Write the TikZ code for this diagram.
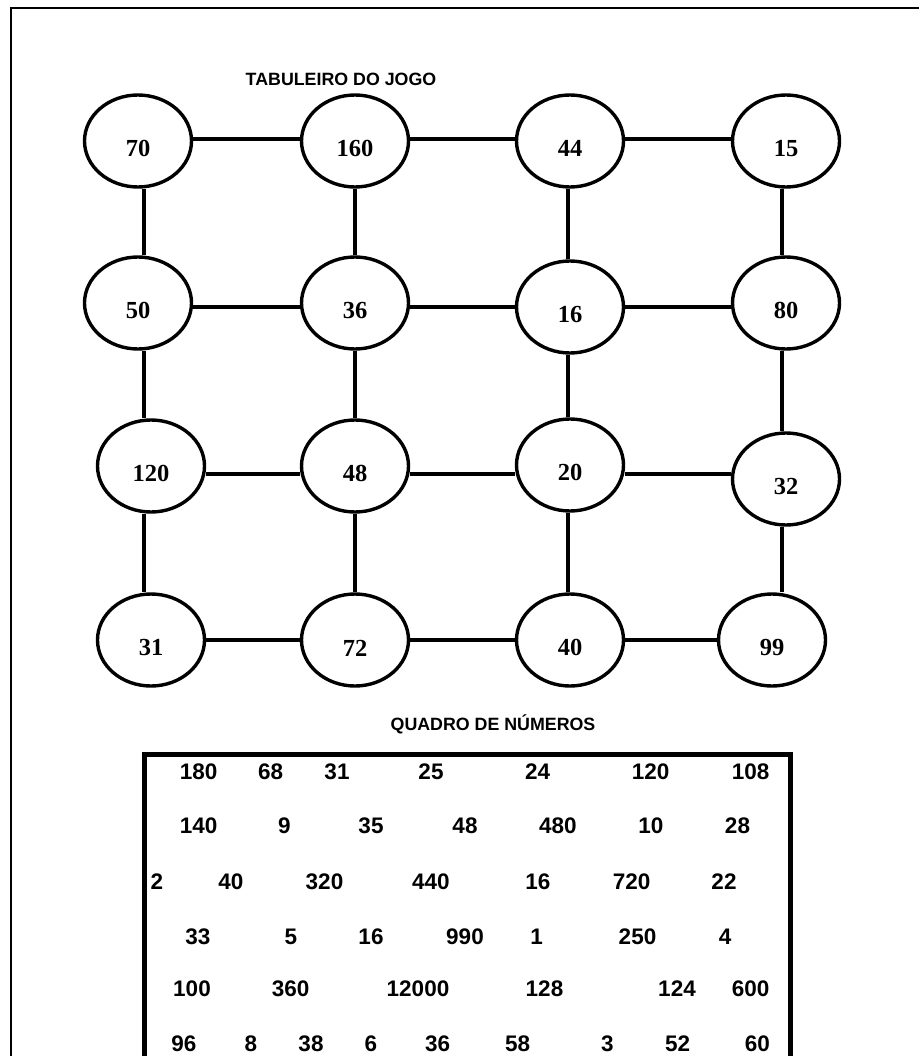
\documentclass[tikz,border=0pt]{standalone}
\usepackage{fontspec}
\setmainfont{Liberation Serif}
\newfontfamily\arialfont{Liberation Sans}
\usetikzlibrary{shapes.geometric}
\begin{document}
\begin{tikzpicture}[x=1pt,y=-1pt,
  cell/.style={draw, line width=3.4pt, ellipse, minimum width=107pt, minimum height=92pt,
    inner sep=0pt, font=\fontsize{24.5}{24.5}\selectfont\bfseries, text height=32pt},
  link/.style={line width=3.4pt},
  tnum/.style={font=\arialfont\fontsize{22.5}{22.5}\selectfont\bfseries, inner sep=0pt},
  ttl/.style={font=\arialfont\fontsize{17.8}{18}\selectfont\bfseries, inner sep=0pt, anchor=base}]
\useasboundingbox (0,0) rectangle (918,1056);
% outer frame
\draw[line width=2.4pt] (11,1060) -- (11,8) -- (922,8);
% titles
\node[ttl] (title1) at (341,86) {TABULEIRO DO JOGO};
\node[ttl] (title2) at (493,730) {QUADRO DE NÚMEROS};
% board
\node[cell] (n70)  at (138,141) {70};
\node[cell] (n160) at (355,141) {160};
\node[cell] (n44)  at (570,141) {44};
\node[cell] (n15)  at (786,141) {15};
\node[cell] (n50)  at (138,303) {50};
\node[cell] (n36)  at (355,303) {36};
\node[cell] (n16)  at (570,307) {16};
\node[cell] (n80)  at (786,303) {80};
\node[cell] (n120) at (151,466) {120};
\node[cell] (n48)  at (355,466) {48};
\node[cell] (n20)  at (570,465) {20};
\node[cell] (n32)  at (786,479) {32};
\node[cell] (n31)  at (151,640) {31};
\node[cell] (n72)  at (355,640) {72};
\node[cell] (n40)  at (570,640) {40};
\node[cell] (n99)  at (772,640) {99};
\coordinate (r1) at (0,139);
\coordinate (r2) at (0,307);
\coordinate (r3) at (0,474);
\coordinate (r4) at (0,640);
\coordinate (c1) at (144,0);
\coordinate (c2) at (355,0);
\coordinate (c3) at (568,0);
\coordinate (c4) at (782,0);
% horizontal links
\draw[link] (n70.east |- r1) -- (n160.west |- r1);
\draw[link] (n160.east |- r1) -- (n44.west |- r1);
\draw[link] (n44.east |- r1) -- (n15.west |- r1);
\draw[link] (n50.east |- r2) -- (n36.west |- r2);
\draw[link] (n36.east |- r2) -- (n16.west |- r2);
\draw[link] (n16.east |- r2) -- (n80.west |- r2);
\draw[link] (n120.east |- r3) -- (n48.west |- r3);
\draw[link] (n48.east |- r3) -- (n20.west |- r3);
\draw[link] (n20.east |- r3) -- (n32.west |- r3);
\draw[link] (n31.east |- r4) -- (n72.west |- r4);
\draw[link] (n72.east |- r4) -- (n40.west |- r4);
\draw[link] (n40.east |- r4) -- (n99.west |- r4);
% vertical links
\draw[link] (n70.south -| c1) -- (n50.north -| c1);
\draw[link] (n50.south -| c1) -- (n120.north -| c1);
\draw[link] (n120.south -| c1) -- (n31.north -| c1);
\draw[link] (n160.south -| c2) -- (n36.north -| c2);
\draw[link] (n36.south -| c2) -- (n48.north -| c2);
\draw[link] (n48.south -| c2) -- (n72.north -| c2);
\draw[link] (n44.south -| c3) -- (n16.north -| c3);
\draw[link] (n16.south -| c3) -- (n20.north -| c3);
\draw[link] (n20.south -| c3) -- (n40.north -| c3);
\draw[link] (n15.south -| c4) -- (n80.north -| c4);
\draw[link] (n80.south -| c4) -- (n32.north -| c4);
\draw[link] (n32.south -| c4) -- (n99.north -| c4);
% number table frame
\draw[line width=5pt, line join=miter] (144,1060) -- (144,754) -- (790,754) -- (790,1060);
\foreach \x/\y/\t [count=\i] in {
  198.7/772/180, 270.7/772/68, 337/772/31, 431/772/25, 537.7/772/24, 650.7/772/120, 750.7/772/108,
  198.7/826/140, 284.5/826/9, 371/826/35, 465/826/48, 557.8/826/480, 650.8/826/10, 737.5/826/28,
  157/882/2, 230.8/882/40, 324.5/882/320, 430.8/882/440, 537.8/882/16, 631.7/882/720, 724/882/22,
  197.8/937/33, 291/937/5, 371/937/16, 465/937/990, 536.7/937/1, 637.5/937/250, 725/937/4,
  192/989/100, 290.7/989/360, 418/989/12000, 544.5/989/128, 677/989/124, 750.7/989/600,
  184/1044/96, 251/1044/8, 311/1044/38, 371/1044/6, 437.7/1044/36, 517.7/1044/58, 607.3/1044/3, 677.7/1044/52, 757.3/1044/60}
  \node[tnum] (t\i) at (\x,\y) {\t};
\end{tikzpicture}
\end{document}
